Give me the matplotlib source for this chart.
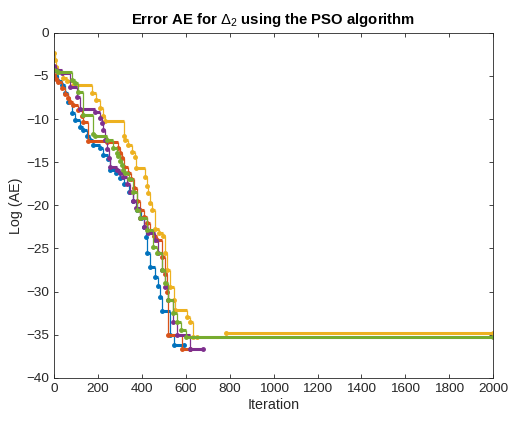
import numpy as np
import matplotlib
matplotlib.use('Agg')
import matplotlib.pyplot as plt

plt.rcParams['font.family'] = ['Liberation Sans', 'DejaVu Sans']
plt.rcParams['mathtext.fontset'] = 'custom'
plt.rcParams['mathtext.rm'] = 'Liberation Sans'
plt.rcParams['mathtext.it'] = 'Liberation Sans:bold'
plt.rcParams['mathtext.bf'] = 'Liberation Sans:bold'

# best-so-far log(AE) per run, as (iteration, value) step points
blue_it = [0, 8, 20, 35, 50, 64, 80, 96, 118, 133, 150, 164, 179, 210, 225, 247, 255, 280, 300,
           320, 340, 360, 380, 395, 410, 418, 425, 437, 460, 475, 483, 492, 528, 545, 590]
blue_v = [-4.3, -5.0, -5.6, -6.1, -7.0, -8.0, -9.3, -10.1, -10.9, -11.3, -12.0, -12.4, -13.0, -13.4,
          -14.2, -14.6, -15.9, -16.3, -16.8, -17.5, -18.5, -19.5, -20.5, -21.5, -22.5, -23.7, -25.5,
          -27.1, -28.3, -29.4, -30.6, -32.2, -35.0, -36.2, -36.2]

red_it = [0, 10, 20, 35, 50, 64, 73, 87, 110, 127, 133, 155, 240, 292, 300, 308, 320, 335, 350,
          365, 380, 392, 410, 422, 437, 455, 467, 490, 505, 515, 520, 583, 620]
red_v = [-4.9, -5.3, -5.7, -6.4, -7.1, -7.6, -8.0, -8.4, -8.9, -9.7, -10.3, -12.5, -12.7, -13.3,
         -13.9, -14.5, -15.5, -16.2, -17.0, -18.0, -19.5, -20.5, -21.3, -22.0, -23.0, -23.5, -24.0,
         -26.0, -28.0, -30.0, -35.0, -36.7, -36.7]

yellow_it = [0, 3, 8, 20, 40, 60, 88, 171, 190, 210, 223, 232, 318, 323, 337, 354, 369, 375, 415,
             422, 430, 437, 445, 460, 480, 497, 505, 515, 530, 545, 551, 605, 620, 635, 650]
yellow_v = [-2.3, -3.2, -4.0, -4.6, -5.2, -5.6, -6.1, -7.0, -7.8, -8.7, -9.6, -10.2, -12.0, -12.4,
            -13.0, -13.8, -14.4, -15.7, -16.7, -17.8, -18.6, -19.7, -20.5, -22.8, -23.2, -23.6,
            -25.5, -27.5, -29.5, -31.0, -32.1, -33.0, -33.5, -35.3, -35.3]
yellow_tail_it = [784, 2000]
yellow_tail_v = [-34.8, -34.8]

purple_it = [0, 8, 35, 73, 104, 118, 186, 210, 217, 225, 232, 240, 248, 255, 287, 300, 315, 330,
             345, 360, 375, 392, 410, 430, 460, 475, 490, 505, 520, 540, 560, 620, 680]
purple_v = [-3.9, -4.3, -4.7, -6.3, -7.4, -8.8, -9.2, -9.9, -10.5, -11.3, -12.4, -13.5, -14.5,
            -15.5, -15.9, -16.3, -16.7, -17.5, -18.5, -19.5, -20.3, -21.5, -22.5, -23.2, -24.0,
            -25.5, -27.5, -29.5, -31.0, -33.5, -35.0, -36.7, -36.7]

green_it = [0, 18, 82, 96, 110, 133, 178, 187, 240, 270, 285, 292, 300, 308, 316, 323, 340, 360,
            380, 392, 422, 452, 470, 490, 505, 520, 540, 560, 580, 600, 2000]
green_v = [-4.3, -4.6, -5.5, -5.8, -6.9, -9.5, -11.7, -12.0, -12.4, -13.3, -13.9, -14.3, -14.9,
           -15.3, -15.9, -16.2, -17.0, -18.5, -20.5, -21.5, -22.9, -24.8, -25.5, -27.5, -29.0,
           -31.0, -32.5, -33.5, -34.5, -35.3, -35.3]

runs = [
    (blue_it, blue_v, '#0072BD'),
    (red_it, red_v, '#D95319'),
    (yellow_it, yellow_v, '#EDB120'),
    (yellow_tail_it, yellow_tail_v, '#EDB120'),
    (purple_it, purple_v, '#7E2F8E'),
    (green_it, green_v, '#77AC30'),
]

fig = plt.figure(figsize=(5.1, 4.26), dpi=100)
ax = fig.add_axes([0.106, 0.113, 0.861, 0.810])

for it, v, c in runs:
    it = np.array(it)
    v = np.array(v)
    # flat stretches look thick (a dot at every iteration), drops are thin
    ax.hlines(v[:-1], it[:-1], it[1:], color=c, lw=2.2)
    ax.vlines(it[1:], v[1:], v[:-1], color=c, lw=0.9)
    ax.plot(it, v, '.', color=c, ms=5)

ax.set_xlim(0, 2000)
ax.set_ylim(-40, 0)
ax.set_xticks(np.arange(0, 2001, 200))
ax.set_yticks(np.arange(-40, 1, 5))
ax.tick_params(direction='in', top=True, right=True, labelsize=9.7, colors='#262626',
               length=3, width=0.6)
for s in ax.spines.values():
    s.set_color('#262626')
    s.set_linewidth(0.6)

ax.set_xlabel('Iteration', fontsize=10.3, color='#262626', labelpad=2)
ax.set_ylabel('Log (AE)', fontsize=10.3, color='#262626', labelpad=2)
ax.set_title(r'Error AE for $\Delta_2$ using the PSO algorithm', fontsize=10.7,
             fontweight='bold', pad=6)

fig.savefig('out.png', dpi=100)
